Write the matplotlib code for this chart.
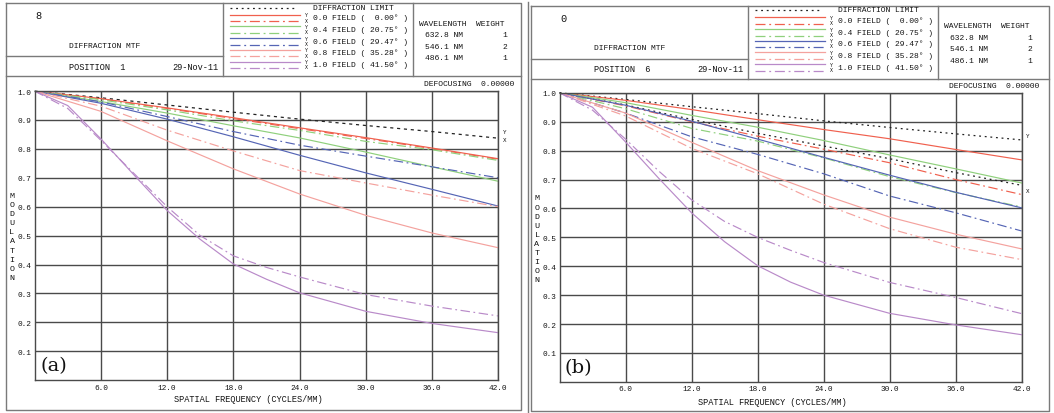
import matplotlib
matplotlib.use('Agg')
import matplotlib.pyplot as plt

W, H = 1054, 414

# spatial frequency samples (cycles/mm)
freq = [0, 6, 12, 18, 24, 30, 36, 42]
freq_fine = [0, 3, 6, 9, 12, 15, 18, 21, 24, 30, 36, 42]

# ---- panel (a): position 1 ----
a_diff = [1.0, 0.977, 0.952, 0.927, 0.903, 0.881, 0.860, 0.837]
a_f0_t = [1.0, 0.974, 0.942, 0.908, 0.873, 0.839, 0.803, 0.766]
a_f0_s = [1.0, 0.973, 0.940, 0.905, 0.870, 0.836, 0.801, 0.764]
a_f4_t = [1.0, 0.964, 0.924, 0.880, 0.838, 0.789, 0.738, 0.688]
a_f4_s = [1.0, 0.970, 0.935, 0.897, 0.864, 0.826, 0.797, 0.760]
a_f6_t = [1.0, 0.958, 0.903, 0.842, 0.778, 0.717, 0.660, 0.602]
a_f6_s = [1.0, 0.963, 0.912, 0.860, 0.813, 0.775, 0.738, 0.700]
a_f8_t = [1.0, 0.930, 0.828, 0.731, 0.644, 0.570, 0.509, 0.458]
a_f8_s = [1.0, 0.948, 0.865, 0.793, 0.725, 0.682, 0.640, 0.600]
a_f10_t = [1.0, 0.95, 0.835, 0.71, 0.587, 0.487, 0.402, 0.349, 0.302, 0.238, 0.196, 0.164]
a_f10_s = [1.0, 0.94, 0.83, 0.715, 0.60, 0.50, 0.43, 0.39, 0.357, 0.296, 0.256, 0.222]

# ---- panel (b): position 6 ----
b_diff_t = [1.0, 0.977, 0.952, 0.928, 0.903, 0.880, 0.858, 0.837]
b_diff_s = [1.0, 0.958, 0.908, 0.860, 0.816, 0.772, 0.724, 0.680]
b_f0_t = [1.0, 0.974, 0.942, 0.907, 0.873, 0.841, 0.804, 0.768]
b_f0_s = [1.0, 0.955, 0.900, 0.850, 0.805, 0.758, 0.700, 0.648]
b_f4_t = [1.0, 0.966, 0.922, 0.881, 0.835, 0.785, 0.737, 0.688]
b_f4_s = [1.0, 0.945, 0.877, 0.833, 0.775, 0.710, 0.655, 0.605]
b_f6_t = [1.0, 0.957, 0.902, 0.840, 0.777, 0.715, 0.656, 0.602]
b_f6_s = [1.0, 0.930, 0.848, 0.787, 0.720, 0.643, 0.585, 0.522]
b_f8_t = [1.0, 0.930, 0.829, 0.731, 0.647, 0.570, 0.511, 0.460]
b_f8_s = [1.0, 0.920, 0.808, 0.720, 0.615, 0.530, 0.466, 0.423]
b_f10_t = [1.0, 0.95, 0.83, 0.705, 0.585, 0.485, 0.402, 0.345, 0.30, 0.237, 0.197, 0.163]
b_f10_s = [1.0, 0.94, 0.84, 0.73, 0.63, 0.555, 0.50, 0.455, 0.413, 0.344, 0.292, 0.236]

fields = ['0.0', '0.4', '0.6', '0.8', '1.0']
field_angles = ['0.00', '20.75', '29.47', '35.28', '41.50']
field_colors = ['#f0604e', '#8fd07c', '#5565b5', '#f4a29e', '#b98ac9']
wavelengths = ['632.8', '546.1', '486.1']
weights = ['1', '2', '1']
x_ticks = [6, 12, 18, 24, 30, 36, 42]
y_ticks = [0.1, 0.2, 0.3, 0.4, 0.5, 0.6, 0.7, 0.8, 0.9, 1.0]

MONO = 'Liberation Mono'
TXT = '#141414'
BOX = '#7a7a7a'
DASHDOT = (0, (8, 3, 1.5, 3))
DOTTED = (0, (1.5, 3))

fig = plt.figure(figsize=(W / 100, H / 100), dpi=100)
bg = fig.add_axes([0, 0, 1, 1])
bg.set_xlim(0, W)
bg.set_ylim(H, 0)
bg.axis('off')


def txt(x, y, s, size=6.2, ha='left', **kw):
    bg.text(x, y, s, fontsize=size, family=MONO, color=TXT, ha=ha, va='center', **kw)


def draw_panel(dx, dy, box, pos_no, number, plot_box, curves, diff_curves, diff_ls, yx_pos, tag):
    # frame of the panel
    x0, x1, y0, y1 = box
    bg.plot([x0, x1, x1, x0, x0], [y0, y0, y1, y1, y0], color=BOX, lw=1)
    bg.plot([x0, x1], [77 + dy, 77 + dy], color=BOX, lw=1)
    bg.plot([x0, 223 + dx], [57 + dy, 57 + dy], color=BOX, lw=1)
    bg.plot([223 + dx, 223 + dx], [y0, 77 + dy], color=BOX, lw=1)
    bg.plot([413 + dx, 413 + dx], [y0, 77 + dy], color=BOX, lw=1)

    # header texts
    txt(35 + dx, 16 + dy, number, size=7.5)
    txt(69 + dx, 46 + dy, 'DIFFRACTION MTF', size=5.8)
    txt(69 + dx, 67 + dy, 'POSITION  ' + pos_no)
    txt(218 + dx, 67 + dy, '29-Nov-11', ha='right')

    # legend
    bg.plot([230 + dx, 296 + dx], [8.5 + dy, 8.5 + dy], color='#222222', lw=0.9, ls=DOTTED)
    txt(313 + dx, 8 + dy, 'DIFFRACTION LIMIT', size=5.8)
    for i, (f, ang, c) in enumerate(zip(fields, field_angles, field_colors)):
        ty = 18.5 + i * 11.7 + dy
        bg.plot([230 + dx, 300 + dx], [ty - 2.8, ty - 2.8], color=c, lw=0.9)
        bg.plot([230 + dx, 300 + dx], [ty + 3.8, ty + 3.8], color=c, lw=0.9, ls=DASHDOT)
        txt(305 + dx, ty - 2.6, 'Y', size=3.6)
        txt(305 + dx, ty + 2.6, 'X', size=3.6)
        txt(313 + dx, ty, '%s FIELD ( %5s\u00b0 )' % (f, ang), size=5.8)

    txt(419 + dx, 24 + dy, 'WAVELENGTH  WEIGHT', size=5.8)
    for i, (wl, wt) in enumerate(zip(wavelengths, weights)):
        ty = 35.5 + i * 11.7 + dy
        txt(425 + dx, ty, wl + ' NM', size=5.8)
        txt(505 + dx, ty, wt, size=5.8, ha='center')
    txt(514 + dx, 84 + dy, 'DEFOCUSING  0.00000', size=5.8, ha='right')

    # plot area
    px0, px1, pyt, pyb = plot_box
    ax = fig.add_axes([px0 / W, (H - pyb) / H, (px1 - px0) / W, (pyb - pyt) / H])
    ax.set_xlim(0, 42)
    ax.set_ylim(0, 1)
    ax.set_xticks(x_ticks)
    ax.set_xticklabels(['%.1f' % v for v in x_ticks])
    ax.set_yticks(y_ticks)
    ax.set_yticklabels(['%.1f' % v for v in y_ticks])
    ax.tick_params(length=0, labelsize=5.6, colors=TXT, pad=2.5)
    for lab in ax.get_xticklabels() + ax.get_yticklabels():
        lab.set_family(MONO)
    ax.grid(True, color='#4a4a4a', lw=1.0)
    for sp in ax.spines.values():
        sp.set_color('#4a4a4a')
        sp.set_linewidth(1.0)
    ax.patch.set_alpha(0)

    for xs, ys in diff_curves:
        ax.plot(xs, ys, color='#222222', lw=0.9, ls=diff_ls, clip_on=False)
    for c, (xt, yt_, xs_, ys_) in zip(field_colors, curves):
        ax.plot(xt, yt_, color=c, lw=0.85)
        ax.plot(xs_, ys_, color=c, lw=0.85, ls=DASHDOT)

    for lab, (lx, ly) in zip(['Y', 'X'], yx_pos):
        txt(lx, ly, lab, size=4.2)

    # axis titles
    txt((px0 + px1) / 2 - 18, 400 + dy, 'SPATIAL FREQUENCY (CYCLES/MM)', size=6.2, ha='center')
    for k, ch in enumerate('MODULATION'):
        txt(12 + dx, 196.5 + k * 9.1 + dy, ch, size=6.0, ha='center')

    bg.text(40 + dx, 366 + dy, tag, fontsize=14, family='DejaVu Serif', color='#111111',
            ha='left', va='center')


curves_a = [
    (freq, a_f0_t, freq, a_f0_s),
    (freq, a_f4_t, freq, a_f4_s),
    (freq, a_f6_t, freq, a_f6_s),
    (freq, a_f8_t, freq, a_f8_s),
    (freq_fine, a_f10_t, freq_fine, a_f10_s),
]
curves_b = [
    (freq, b_f0_t, freq, b_f0_s),
    (freq, b_f4_t, freq, b_f4_s),
    (freq, b_f6_t, freq, b_f6_s),
    (freq, b_f8_t, freq, b_f8_s),
    (freq_fine, b_f10_t, freq_fine, b_f10_s),
]

draw_panel(0, 0, (6, 520.5, 4.3, 411), '1', '8', (34.6, 498.3, 92.1, 381.1),
           curves_a, [(freq, a_diff)], (0, (2.5, 3)), [(503, 133), (503, 141)], '(a)')
draw_panel(525, 2.5, (530.5, 1049, 6.8, 412), '6', '0', (559.5, 1021.5, 93.8, 382.8),
           curves_b, [(freq, b_diff_t), (freq, b_diff_s)], DOTTED, [(1026, 137), (1026, 192)], '(b)')
bg.plot([527.6, 527.6], [3, 414], color=BOX, lw=1)

fig.savefig('out.png', dpi=100)
